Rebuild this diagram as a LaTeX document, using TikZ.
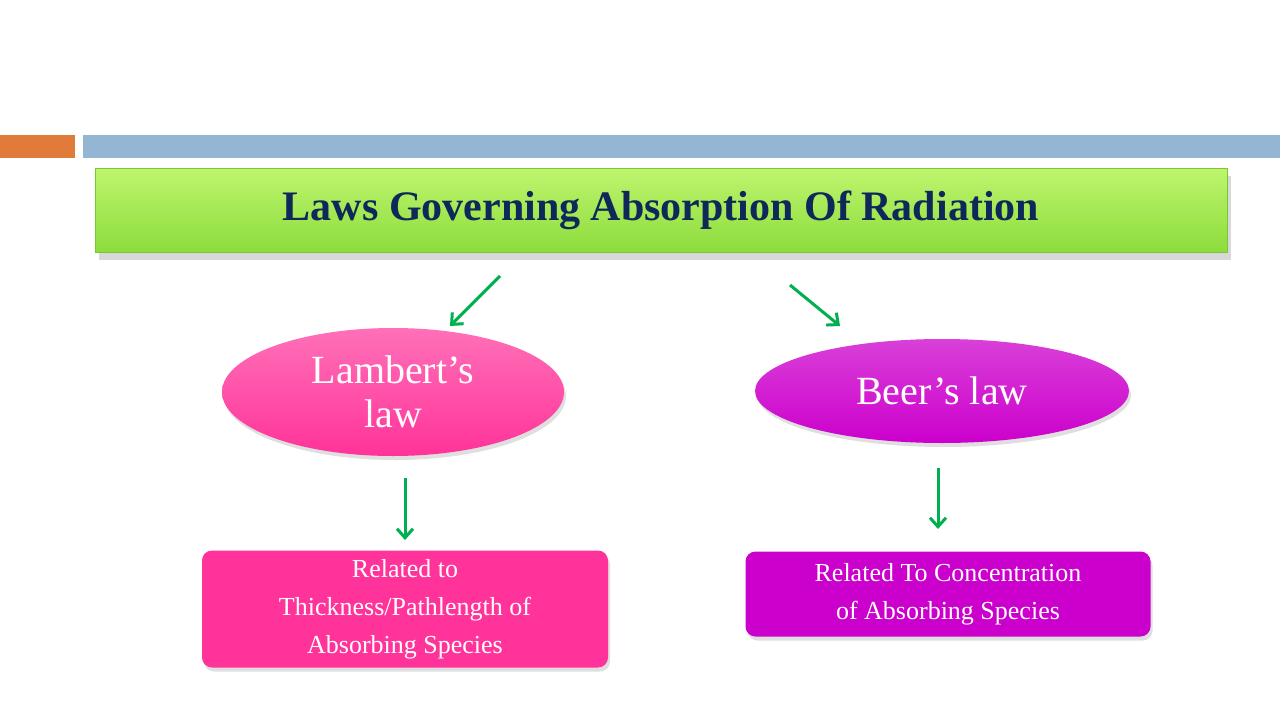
\documentclass[tikz,border=0pt]{standalone}
\usepackage{fontspec}
\setmainfont{Liberation Serif}
\usetikzlibrary{shapes.geometric,arrows.meta,shadows}
\definecolor{garr}{HTML}{00B050}
\definecolor{pinkc}{HTML}{FF3399}
\definecolor{magc}{HTML}{CC00CC}
\tikzset{
  garrow/.style={draw=garr,line width=3pt,-{Straight Barb[length=9pt,width=16pt]}},
  oval/.style={ellipse,text=white,align=center,font=\fontsize{40}{44}\selectfont,drop shadow={shadow xshift=2pt,shadow yshift=-4pt,opacity=0.25}},
  rbox/.style={rectangle,rounded corners=10pt,text=white,align=center,font=\fontsize{26}{38}\selectfont,drop shadow={shadow xshift=2pt,shadow yshift=-4pt,opacity=0.25}}
}
\begin{document}
\begin{tikzpicture}[x=1pt,y=-1pt]
\useasboundingbox (0,0) rectangle (1280,720);
\fill[white] (0,0) rectangle (1280,720);
\fill[fill={rgb,255:red,224;green,123;blue,57}] (0,135) rectangle (75,158);
\fill[fill={rgb,255:red,148;green,182;blue,210}] (83,135) rectangle (1280,158);
\node[rectangle,minimum width=1132pt,minimum height=84pt,top color={rgb,255:red,190;green,245;blue,110},bottom color={rgb,255:red,140;green,220;blue,60},draw={rgb,255:red,120;green,200;blue,50},drop shadow={shadow xshift=4pt,shadow yshift=-8pt,opacity=0.3},text={rgb,255:red,15;green,40;blue,90},font=\fontsize{42}{46}\selectfont\bfseries] (title) at (661,210) {Laws Governing Absorption Of Radiation};
\node[oval,minimum width=342pt,minimum height=128pt,inner sep=0pt,top color=pinkc!70!white,bottom color=pinkc] (lam) at (393,392) {Lambert’s\\law};
\node[oval,minimum width=374pt,minimum height=104pt,inner sep=0pt,top color=magc!75!white,bottom color=magc] (beer) at (942,391) {Beer's law};
\node[rbox,minimum width=406pt,minimum height=117pt,inner sep=2pt,fill=pinkc] (b1) at (405,609) {Related to\\Thickness/Pathlength of\\Absorbing Species};
\node[rbox,minimum width=405pt,minimum height=85pt,inner sep=2pt,fill=magc] (b2) at (948,594) {Related To Concentration\\of Absorbing Species};
\coordinate (a1s) at (500,276); \coordinate (a1e) at (450,326);
\coordinate (a2s) at (790,285); \coordinate (a2e) at (840,326);
\coordinate (a3s) at (405,478); \coordinate (a3e) at (405,540);
\coordinate (a4s) at (938,468); \coordinate (a4e) at (938,529);
\draw[garrow] (a1s) -- (a1e);
\draw[garrow] (a2s) -- (a2e);
\draw[garrow] (a3s) -- (a3e);
\draw[garrow] (a4s) -- (a4e);
\end{tikzpicture}
\end{document}
